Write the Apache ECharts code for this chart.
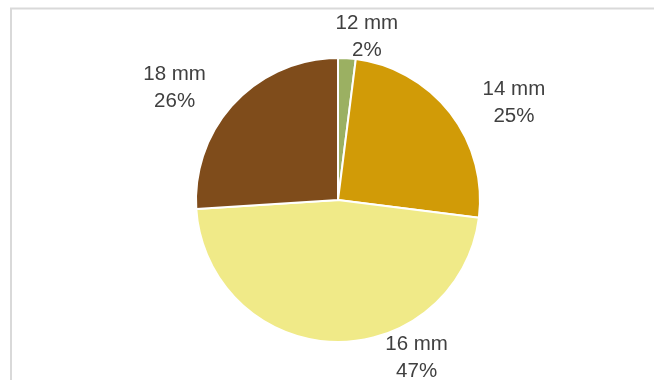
<!DOCTYPE html>
<html>
<head>
<meta charset="utf-8">
<script src="https://cdn.jsdelivr.net/npm/echarts@6/dist/echarts.min.js"></script>
<style>
  html, body { margin: 0; padding: 0; background: #ffffff; }
  #chart { width: 654px; height: 380px; }
</style>
</head>
<body>
<div id="chart"></div>
<script>
// Rod diameter share
const categories = ['12 mm', '14 mm', '16 mm', '18 mm'];
const shares = [2, 25, 47, 26];
const colors = ['#9bb062', '#d19b07', '#f0ea88', '#7f4c1b'];

// Small per-label offsets from the default outside anchor (px)
const labelNudge = [[13, 9], [35, 8], [89, -14], [-33, 6]];

const chart = echarts.init(document.getElementById('chart'), null, { renderer: 'canvas' });

const pieData = categories.map((name, i) => ({
  name: name,
  value: shares[i],
  itemStyle: { color: colors[i] }
}));

chart.setOption({
  animation: false,
  backgroundColor: '#ffffff',
  graphic: [{
    type: 'polyline',
    shape: { points: [[11, 380], [11, 8.5], [654, 8.5]] },
    style: { stroke: '#d9d9d9', lineWidth: 2, fill: null },
    silent: true
  }],
  series: [{
    type: 'pie',
    center: [338, 200],
    radius: 142,
    startAngle: 90,
    clockwise: true,
    avoidLabelOverlap: false,
    itemStyle: { borderColor: '#ffffff', borderWidth: 2 },
    label: {
      show: true,
      position: 'outside',
      formatter: p => p.name + '\n' + Math.round(p.percent) + '%',
      fontFamily: '"Liberation Sans", Arial, sans-serif',
      fontSize: 20.5,
      lineHeight: 27,
      color: '#404040'
    },
    labelLine: { show: false, length: 30, length2: 0 },
    labelLayout: function (params) {
      const n = labelNudge[params.dataIndex];
      return { align: 'center', verticalAlign: 'middle', dx: n[0], dy: n[1] };
    },
    data: pieData
  }]
});
</script>
</body>
</html>
